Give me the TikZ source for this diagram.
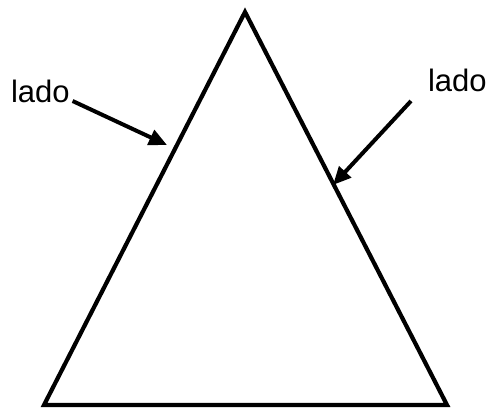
\documentclass[tikz,border=0pt]{standalone}
\usepackage{fontspec}
\setmainfont{Liberation Sans}
\usetikzlibrary{arrows.meta, positioning}
\tikzset{
  every picture/.style={line width=2pt},
  side/.style={draw=black, line join=miter, line width=2.1pt},
  label/.style={font=\fontsize{15.5}{18}\selectfont, inner sep=0pt, anchor=base west},
  arrow/.style={-{Triangle[length=9pt, width=8pt]}, draw=black, line width=2pt},
}
\begin{document}
\begin{tikzpicture}[x=0.5pt, y=-0.5pt]
  \useasboundingbox (0,0) rectangle (490,410);
  % the triangle
  \coordinate (top) at (245,12);
  \coordinate (bl) at (44,405);
  \coordinate (br) at (447,405);
  \draw[side] (top) -- (bl) -- (br) -- cycle;
  % labels and their arrows
  \node[label] (lleft) at (9,103) {lado};
  \node[label] (lright) at (426,92) {lado};
  \coordinate (tipl) at (167,145);
  \coordinate (tipr) at (333,185);
  \coordinate (startr) at (411,101);
  \draw[arrow] (lleft.base east) ++(1,-2) -- (tipl);
  \draw[arrow] (startr) -- (tipr);
\end{tikzpicture}
\end{document}
